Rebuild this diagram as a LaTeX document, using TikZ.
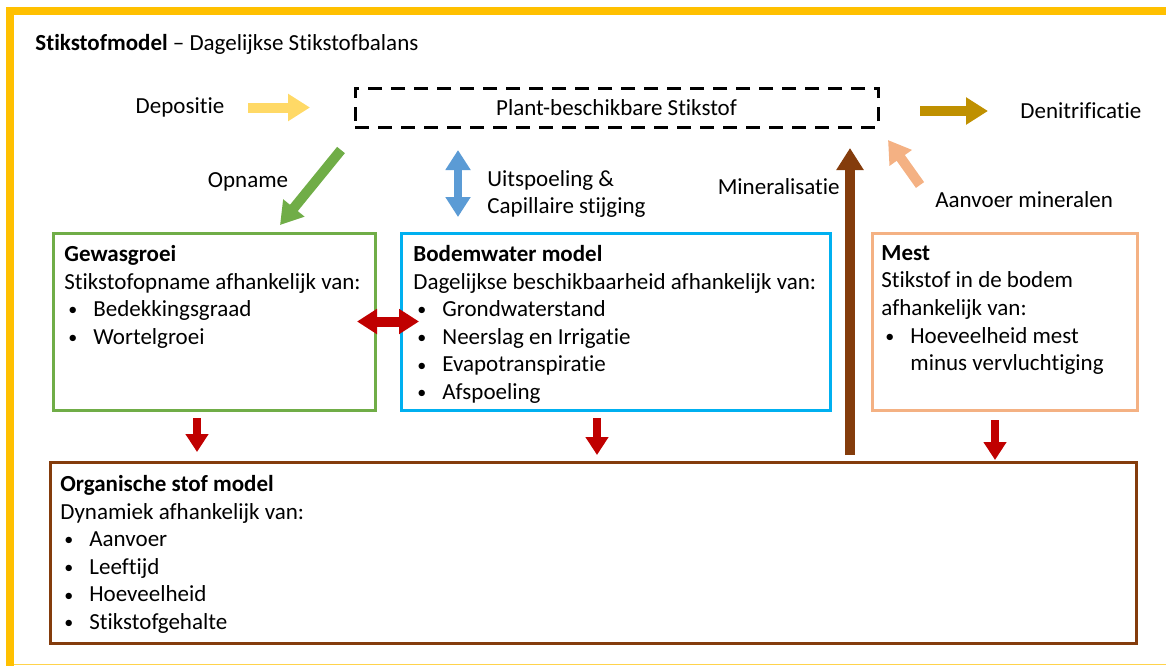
\documentclass[tikz,border=0pt]{standalone}
\usepackage{fontspec}
\setmainfont{Carlito}[Ligatures=NoCommon]
\usetikzlibrary{positioning, arrows.meta}
\definecolor{geel}{HTML}{FFC000}
\definecolor{lichtgeel}{HTML}{FFD966}
\definecolor{goud}{HTML}{BF9000}
\definecolor{groen}{HTML}{70AD47}
\definecolor{lichtblauw}{HTML}{5B9BD5}
\definecolor{cyaan}{HTML}{00B0F0}
\definecolor{bruin}{HTML}{843C0C}
\definecolor{perzik}{HTML}{F4B183}
\definecolor{rood}{HTML}{C00000}
\tikzset{
  pijl/.style={line width=5pt, -{Triangle[length=11pt,width=13pt]}},
  dubbelpijl/.style={line width=5pt, {Triangle[length=10pt,width=12pt]}-{Triangle[length=10pt,width=12pt]}},
  neerpijl/.style={line width=4pt, -{Triangle[length=9pt,width=11pt]}},
  kader/.style={draw=#1, line width=1.5pt, anchor=north west, inner sep=0pt, outer sep=0pt},
  kadertekst/.style={anchor=north west, align=left, inner sep=0pt},
  label/.style={inner sep=0pt}
}
\newcommand{\punt}[1]{\hspace*{2pt}\makebox[12.5pt][l]{\raisebox{0.4pt}{\fontsize{9}{9}\selectfont\textbullet}}#1}

\begin{document}
\begin{tikzpicture}[x=0.5pt,y=-0.5pt,font=\fontsize{11.5}{13.8}\selectfont]
        \useasboundingbox (0,0) rectangle (1166,666);
        % Frame
        \fill[geel] (6,7) rectangle (1166,15);
        \fill[geel] (6,7) rectangle (14,666);
        \draw[geel!70, line width=0.8pt] (14,664.5) -- (1166,664.5);

        \node[label, anchor=west] (titel) at (35,44) {\textbf{Stikstofmodel} – Dagelijkse Stikstofbalans};

        %-----------------------------------------------
        \node[draw, dash pattern=on 7pt off 4.5pt, line width=1.5pt, minimum width=261.5pt, minimum height=19.5pt, anchor=north west, outer sep=0pt] (plant) at (355,88) {};
        \node[label] at (plant) {Plant-beschikbare Stikstof};
        \node[label] (dep) at (180,107) {Depositie};
        \node[label, anchor=west] (deni) at (1020,111) {Denitrificatie};
        %-----------------------------------------------
        \node[kader=groen, minimum width=161pt, minimum height=88.5pt] (gew) at (53,233) {};
        \node[kadertekst] (gewtxt) at ([shift={(11,12)}]gew.north west) {\textbf{Gewasgroei}\\
            Stikstofopname afhankelijk van:\\
            \punt{Bedekkingsgraad}\\
            \punt{Wortelgroei}};
        %-----------------------------------------------
        \node[kader=cyaan, minimum width=214.5pt, minimum height=88.5pt] (bod) at (401,233) {};
        \node[kadertekst] (bodtxt) at ([shift={(12,12)}]bod.north west) {\textbf{Bodemwater model}\\
            Dagelijkse beschikbaarheid afhankelijk van:\\
            \punt{Grondwaterstand}\\
            \punt{Neerslag en Irrigatie}\\
            \punt{Evapotranspiratie}\\
            \punt{Afspoeling}};
        %-----------------------------------------------
        \node[kader=perzik, minimum width=132.5pt, minimum height=88.5pt] (mest) at (872,233) {};
        \node[kadertekst] (mesttxt) at ([shift={(9,12)}]mest.north west) {\textbf{Mest}\\
            Stikstof in de bodem\\
            afhankelijk van:\\
            \punt{Hoeveelheid mest}\\
            \hspace*{14.5pt}minus vervluchtiging};
        %-----------------------------------------------
        \node[kader=bruin, minimum width=543pt, minimum height=90.5pt] (org) at (50,462) {};
        \node[kadertekst] (orgtxt) at ([shift={(10,13)}]org.north west) {\textbf{Organische stof model}\\
            Dynamiek afhankelijk van:\\
            \punt{Aanvoer}\\
            \punt{Leeftijd}\\
            \punt{Hoeveelheid}\\
            \punt{Stikstofgehalte}};

        % Arrows
        \draw[pijl, lichtgeel] ([shift={(-107,0)}]plant.west) -- ([shift={(-45,0)}]plant.west);
        \draw[pijl, goud] ([shift={(42,3.5)}]plant.east) -- ([shift={(-32,0)}]deni.west);
        \draw[pijl, groen] ([shift={(-14,23)}]plant.south west) -- ([shift={(66,-8)}]gew.north);
        \draw[dubbelpijl, lichtblauw, line width=4pt] ([shift={(103,23)}]plant.south west) -- ([shift={(57,-16)}]bod.north west);
        \draw[pijl, bruin] ([shift={(257,-7)}]org.north) -- ([shift={(-28,21)}]plant.south east);
        \draw[pijl, perzik] ([shift={(48,-48)}]mest.north west) -- ([shift={(10,13)}]plant.south east);
        \draw[dubbelpijl, rood] ([shift={(-18,0)}]gew.east) -- ([shift={(18,0)}]bod.west);
        \draw[neerpijl, rood] ([shift={(-17,8)}]gew.south) -- ([shift={(147,-10)}]org.north west);
        \draw[neerpijl, rood] ([shift={(-18.5,8)}]bod.south) -- ([shift={(547,-7)}]org.north west);
        \draw[neerpijl, rood] ([shift={(-9.5,10)}]mest.south) -- ([shift={(945,-2)}]org.north west);

        % Labels
        \node[label] (opn) at (248,182) {Opname};
        \node[label, anchor=west, align=left] (uit) at (487,194) {Uitspoeling \&\\Capillaire stijging};
        \node[label, anchor=east] (min) at (840,187) {Mineralisatie};
        \node[label, anchor=west] (aanv) at (935,200) {Aanvoer mineralen};
\end{tikzpicture}
\end{document}
